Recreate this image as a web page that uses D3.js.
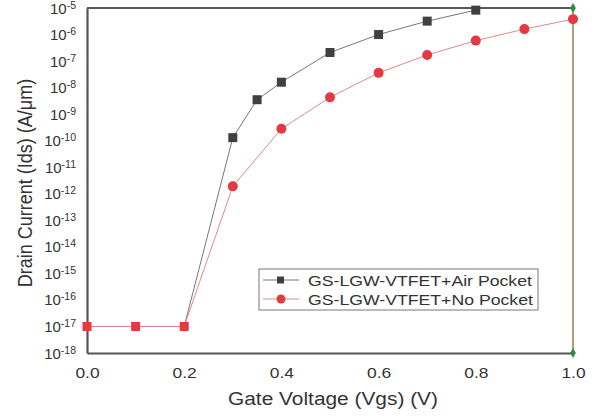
<!DOCTYPE html>
<html>
<head>
<meta charset="UTF-8">
<script src="https://cdn.jsdelivr.net/npm/d3@7"></script>
<style>
    body { margin: 0; background: #fff; }
    text { font-family: 'Liberation Sans', Arial, sans-serif; fill: #333; }
</style>
</head>
<body>
<div id="chart"></div>
<script>
// values
const vgsAir = [0.0, 0.1, 0.2, 0.3, 0.35, 0.4, 0.5, 0.6, 0.7, 0.8];
const idsAir = [1e-17, 1e-17, 1e-17, 1.3e-10, 3.5e-9, 1.6e-8, 2.1e-7, 1.0e-6, 3.2e-6, 8.3e-6];
const vgsNo = [0.0, 0.1, 0.2, 0.3, 0.4, 0.5, 0.6, 0.7, 0.8, 0.9, 1.0];
const idsNo = [1e-17, 1e-17, 1e-17, 1.9e-12, 2.8e-10, 4.3e-9, 3.6e-8, 1.7e-7, 5.9e-7, 1.6e-6, 3.8e-6];
const xTicks = [0.0, 0.2, 0.4, 0.6, 0.8, 1.0];
const yExps = d3.range(-18, -4);
const legendLabels = ["GS-LGW-VTFET+Air Pocket", "GS-LGW-VTFET+No Pocket"];

const W = 595, H = 417;
const m = {left: 87, right: 22, top: 8, bottom: 64};
const SX = 1.16; // the source text looks stretched sideways

const svg = d3.select("#chart").append("svg")
    .attr("width", W).attr("height", H);

const x = d3.scaleLinear().domain([0, 1]).range([m.left, W - m.right]);
const y = d3.scaleLog().domain([1e-18, 1e-5]).range([H - m.bottom, m.top]);

// top frame line
svg.append("line")
    .attr("x1", x(0)).attr("x2", x(1))
    .attr("y1", y(1e-5)).attr("y2", y(1e-5))
    .attr("stroke", "#222").attr("stroke-width", 1.5);
// right line (brown)
svg.append("line")
    .attr("x1", x(1)).attr("x2", x(1))
    .attr("y1", y(1e-5)).attr("y2", y(1e-18))
    .attr("stroke", "#9a7b55").attr("stroke-width", 1.5);

// axes
const xAxis = svg.append("g")
    .attr("transform", `translate(0,${y(1e-18)})`)
    .call(d3.axisBottom(x).tickValues(xTicks).tickFormat(d3.format(".1f")).tickSize(0));
xAxis.select(".domain").attr("stroke", "#555").attr("stroke-width", 2.2);
xAxis.selectAll("text")
    .attr("y", 378 - y(1e-18)).attr("dy", null)
    .attr("transform", `scale(${SX},1)`)
    .style("font-size", "15px").attr("fill", "#444");

const yAxis = svg.append("g")
    .attr("transform", `translate(${x(0)},0)`)
    .call(d3.axisLeft(y).tickValues(yExps.map(e => Math.pow(10, e))).tickFormat("").tickSize(0));
yAxis.select(".domain").attr("stroke", "#555").attr("stroke-width", 2.2);

const yl = svg.append("g");
yExps.forEach(e => {
    const t = yl.append("text")
        .attr("x", 76).attr("y", y(Math.pow(10, e)) + 5.5)
        .attr("text-anchor", "end")
        .style("font-size", "15px").attr("fill", "#444");
    t.append("tspan").text("10");
    t.append("tspan").attr("dy", -5).style("font-size", "10.5px").text(e);
});

// axis titles
svg.append("text")
    .attr("transform", `translate(333,405) scale(${SX},1)`)
    .attr("text-anchor", "middle").style("font-size", "18px").attr("fill", "#222")
    .text("Gate Voltage (Vgs) (V)");
svg.append("text")
    .attr("transform", `translate(32,183) rotate(-90) scale(1,${SX})`)
    .attr("text-anchor", "middle").style("font-size", "18px").attr("fill", "#222")
    .text("Drain Current (Ids) (A/\u03bcm)");

const line = d3.line().x(d => x(d[0])).y(d => y(d[1]));
const air = vgsAir.map((v, i) => [v, idsAir[i]]);
const noP = vgsNo.map((v, i) => [v, idsNo[i]]);

svg.append("path").datum(air).attr("d", line)
    .attr("fill", "none").attr("stroke", "#777").attr("stroke-width", 1);
svg.append("path").datum(noP).attr("d", line)
    .attr("fill", "none").attr("stroke", "#e08a8a").attr("stroke-width", 1);

// squares; where both curves coincide the marker shows red
const same = d => noP.some(p => p[0] === d[0] && p[1] === d[1]);
svg.selectAll("rect.air").data(air).join("rect")
    .attr("x", d => x(d[0]) - 4.5).attr("y", d => y(d[1]) - 4.5)
    .attr("width", 9).attr("height", 9)
    .attr("fill", d => same(d) ? "#e23a40" : "#404040");
svg.selectAll("circle.no").data(noP.filter(d => !air.some(a => a[0] === d[0] && a[1] === d[1])))
    .join("circle")
    .attr("cx", d => x(d[0])).attr("cy", d => y(d[1])).attr("r", 5)
    .attr("fill", "#e23a40");

// green end markers on the right line
[1e-5, 1e-18].forEach(v => {
    svg.append("path")
        .attr("d", d3.symbol(d3.symbolDiamond, 28)())
        .attr("transform", `translate(${x(1)},${y(v)})`)
        .attr("fill", "#2e8b3a");
});

// legend
const lg = svg.append("g").attr("transform", "translate(259,269)");
lg.append("rect").attr("width", 279).attr("height", 41)
    .attr("fill", "#fff").attr("stroke", "#777").attr("stroke-width", 1);
legendLabels.forEach((lab, i) => {
    const yy = 11 + i * 19;
    lg.append("line").attr("x1", 4).attr("x2", 40).attr("y1", yy).attr("y2", yy)
        .attr("stroke", i === 0 ? "#777" : "#e08a8a").attr("stroke-width", 1);
    if (i === 0) {
        lg.append("rect").attr("x", 18).attr("y", yy - 3.5).attr("width", 7).attr("height", 7).attr("fill", "#404040");
    } else {
        lg.append("circle").attr("cx", 22).attr("cy", yy).attr("r", 4.5).attr("fill", "#e23a40");
    }
    lg.append("text")
        .attr("transform", `translate(49,${yy + 5.5}) scale(1.14,1)`)
        .style("font-size", "15.5px").attr("fill", "#222").text(lab);
});
</script>
</body>
</html>
